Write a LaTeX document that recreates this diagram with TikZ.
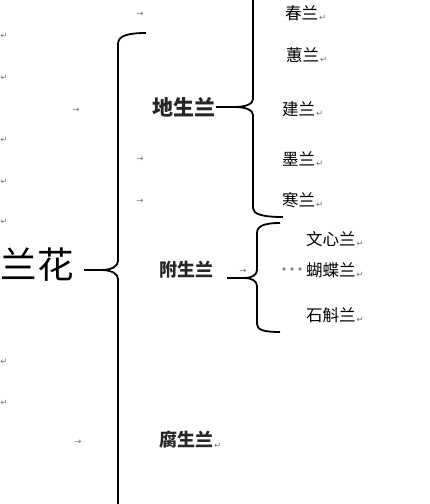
\documentclass[tikz,border=0pt]{standalone}
\usepackage{fontspec}
\setmainfont{Noto Sans CJK SC}
\newfontfamily\markfont{DejaVu Sans}
\usetikzlibrary{positioning}

\tikzset{
    brace/.style={line width=1.8pt},
    stem/.style={line width=2.6pt},
    root/.style={inner sep=0pt, anchor=west, font=\fontsize{36.5}{37}\selectfont},
    kind/.style={inner sep=0pt, anchor=west, font=\fontsize{18}{18}\selectfont\bfseries, text=black!85},
    leaf/.style={inner sep=0pt, anchor=west, font=\fontsize{16.5}{17}\selectfont},
    ret/.style={inner sep=0pt, text=black!55, font=\markfont\fontsize{8.5}{9}\selectfont},
    tabmark/.style={inner sep=0pt, text=black!55, font=\markfont\fontsize{8.5}{9}\selectfont},
}

\begin{document}
\begin{tikzpicture}[x=1pt, y=-1pt]
    \useasboundingbox (0,0) rectangle (430,504);

    % main nodes
    \node[root] (lanhua) at (0.5,265) {兰花};
    \node[kind, font=\fontsize{21}{21}\selectfont\bfseries] (disheng) at (152,107) {地生兰};
    \node[kind] (fusheng) at (159,270) {附生兰};
    \node[kind] (fusheng2) at (159,440) {腐生兰};

    % leaves
    \node[leaf] (chun) at (285,13) {春兰};
    \node[leaf] (hui) at (286,55) {蕙兰};
    \node[leaf] (jian) at (282,109) {建兰};
    \node[leaf] (mo) at (282,159) {墨兰};
    \node[leaf] (han) at (282,200) {寒兰};
    \node[leaf] (wenxin) at (306,239) {文心兰};
    \node[leaf] (hudie) at (306,270) {蝴蝶兰};
    \node[leaf] (shihu) at (306,315) {石斛兰};

    % braces
    \coordinate (tip1) at (101,270);
    \coordinate (tip2) at (234,107);
    \coordinate (tip3) at (244,278);
    \draw[stem] (84,270) -- (tip1);
    \draw[brace] (146,33) .. controls (127,33) and (118,36) .. (118,44) -- (118,261)
        .. controls (118,266) and (112,270) .. (tip1)
        .. controls (112,270) and (118,274) .. (118,279) -- (118,506);
    \draw[stem] ([xshift=0.5pt]disheng.east) -- (tip2);
    \draw[brace] (253,-2) -- (253,99)
        .. controls (253,104) and (246,107) .. (tip2)
        .. controls (246,107) and (253,110) .. (253,115) -- (253,208)
        .. controls (253,214) and (262,217) .. (283,217);
    \draw[stem] (227,278) -- (tip3);
    \draw[brace] (280,223) .. controls (264,223) and (257,226) .. (257,233) -- (257,270)
        .. controls (257,275) and (252,278) .. (tip3)
        .. controls (252,278) and (257,281) .. (257,286) -- (257,324)
        .. controls (257,330) and (264,332) .. (280,332);

    % leader dots
    \foreach \x in {284,292,300}
        \fill[black!50] (\x,269) circle (1.9);

    % return marks
    \foreach \n in {chun,hui,jian,mo,han,wenxin,hudie,shihu,fusheng2}
        \node[ret, right=0.5pt of \n.south east, anchor=south west] (\n-ret) {↵};
    \foreach \y [count=\i] in {36,78,140,182,222,362,403}
        \node[ret] (ret\i) at (4,\y) {↵};
    \foreach \x/\y [count=\i] in {140/14,76/110,140/159,140/201,243/271,78/442}
        \node[tabmark] (tab\i) at (\x,\y) {→};
\end{tikzpicture}
\end{document}
